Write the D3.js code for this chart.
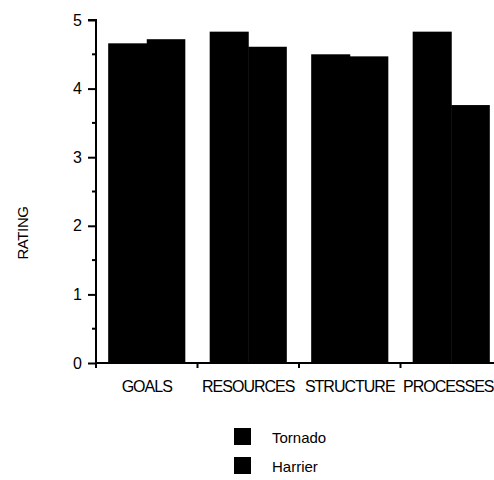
<!DOCTYPE html>
<html>
<head>
<meta charset="utf-8">
<script src="https://cdn.jsdelivr.net/npm/d3@7"></script>
<style>
  html, body { margin: 0; padding: 0; background: #fff; }
  svg { display: block; }
  text { font-family: "Liberation Sans", Arial, Helvetica, sans-serif; fill: #000; }
</style>
</head>
<body>
<script>
// ---- data ----
const categories = ["GOALS", "RESOURCES", "STRUCTURE", "PROCESSES"];
const seriesNames = ["Tornado", "Harrier"];
const tornado = [4.66, 4.83, 4.50, 4.83];
const harrier = [4.72, 4.61, 4.47, 3.76];
const yTicks = [0, 1, 2, 3, 4, 5];
const yMinorTicks = [0.5, 1.5, 2.5, 3.5, 4.5];
const yLabel = "RATING";
const colors = ["#000", "#000"];

const W = 494, H = 480;
const svg = d3.select("body").append("svg").attr("width", W).attr("height", H);

const x0 = 96, x1 = 502, yBase = 363, yTop = 20;

const x = d3.scaleBand().domain(categories).range([x0, x1])
  .paddingInner(0.24).paddingOuter(0.12);
const xs = d3.scaleBand().domain(seriesNames).range([0, x.bandwidth()]).padding(0);
const y = d3.scaleLinear().domain([0, 5]).range([yBase, yTop]);

const data = categories.map((c, i) => ({cat: c, vals: [tornado[i], harrier[i]]}));

// bars
const g = svg.append("g");
data.forEach(d => {
  d.vals.forEach((v, j) => {
    g.append("rect")
      .attr("x", x(d.cat) + xs(seriesNames[j]))
      .attr("y", y(v))
      .attr("width", xs.bandwidth() + (j === 0 ? 0.5 : 0))
      .attr("height", y(0) - y(v))
      .attr("fill", colors[j]);
  });
});

// y axis
const yAxis = d3.axisLeft(y).tickValues(yTicks).tickSize(8).tickPadding(6).tickFormat(d3.format("d"));
const ya = svg.append("g").attr("transform", `translate(${x0},0)`).call(yAxis);
ya.select(".domain").attr("stroke-width", 2).attr("d", `M-8,${yTop}H0V${yBase}`);
ya.selectAll(".tick line").attr("stroke-width", 2);
ya.selectAll(".tick text").attr("font-size", 16).attr("font-family", "Liberation Sans, Arial, sans-serif");
// minor ticks
svg.append("g").selectAll("line").data(yMinorTicks).join("line")
  .attr("x1", x0 - 4).attr("x2", x0).attr("y1", d => y(d)).attr("y2", d => y(d))
  .attr("stroke", "#000").attr("stroke-width", 2);

// x axis line with ticks at band boundaries
const step = x.step();
const boundaries = categories.map((c, i) => x(c) - step * x.paddingInner() / 2);
svg.append("line").attr("x1", x0 - 1).attr("x2", W).attr("y1", yBase).attr("y2", yBase)
  .attr("stroke", "#000").attr("stroke-width", 2);
svg.append("g").selectAll("line").data(boundaries.map((b, i) => i === 0 ? x0 : b)).join("line")
  .attr("x1", d => d).attr("x2", d => d).attr("y1", yBase).attr("y2", yBase + 5)
  .attr("stroke", "#000").attr("stroke-width", 2);

// x labels
svg.append("g").selectAll("text").data(categories).join("text")
  .attr("x", d => x(d) + x.bandwidth() / 2 - (d === "PROCESSES" ? 3 : 0))
  .attr("y", 392)
  .attr("text-anchor", "middle")
  .attr("font-size", 16)
  .attr("letter-spacing", -1)
  .text(d => d);

// y label
svg.append("text")
  .attr("transform", `translate(28,233) rotate(-90)`)
  .attr("text-anchor", "middle")
  .attr("font-size", 15)
  .attr("letter-spacing", -0.4)
  .text(yLabel);

// legend
const leg = svg.append("g");
seriesNames.forEach((s, i) => {
  const ly = 428 + i * 29;
  leg.append("rect").attr("x", 234).attr("y", ly).attr("width", 17).attr("height", 17).attr("fill", colors[i]);
  leg.append("text").attr("x", 272).attr("y", ly + 15).attr("font-size", 15).text(s);
});
</script>
</body>
</html>
